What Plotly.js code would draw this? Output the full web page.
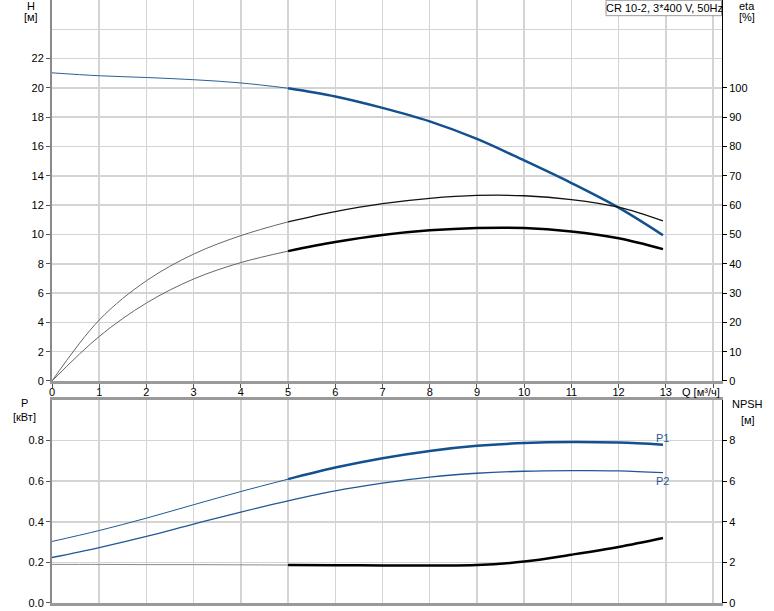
<!DOCTYPE html>
<html>
<head>
<meta charset="utf-8">
<script src="https://cdn.plot.ly/plotly-3.0.1.min.js"></script>
<style>html,body{margin:0;padding:0;background:#fff;}#chart{width:774px;height:611px;}</style>
</head>
<body>
<div id="chart"></div>
<script>
// Data
const Q      = [0, 1, 2, 3, 4, 5, 6, 7, 8, 9, 10, 11, 12, 12.94];
const H      = [21.03, 20.83, 20.71, 20.56, 20.34, 19.98, 19.42, 18.64, 17.72, 16.52, 15.05, 13.51, 11.83, 9.95];
const etaP   = [0, 20.8, 34.2, 43.3, 49.6, 54.3, 57.8, 60.5, 62.3, 63.3, 63.2, 61.9, 59.3, 54.6];
const etaT   = [0, 15.2, 26.6, 34.8, 40.4, 44.3, 47.4, 49.8, 51.4, 52.2, 52.2, 51.0, 48.7, 45.0];
const P1     = [0.303, 0.357, 0.418, 0.484, 0.549, 0.610, 0.667, 0.713, 0.749, 0.774, 0.788, 0.793, 0.790, 0.780];
const P2     = [0.224, 0.273, 0.328, 0.389, 0.448, 0.503, 0.552, 0.590, 0.620, 0.639, 0.649, 0.652, 0.651, 0.642];
const NPSH   = [1.90, 1.90, 1.89, 1.89, 1.88, 1.87, 1.86, 1.85, 1.85, 1.87, 2.04, 2.38, 2.76, 3.20];
const xTicks = [0,1,2,3,4,5,6,7,8,9,10,11,12,13,14];
const xTickText = ['0','1','2','3','4','5','6','7','8','9','10','11','12','13',''];
const hTicks = [0,2,4,6,8,10,12,14,16,18,20,22];
const etaTicks = [0,10,20,30,40,50,60,70,80,90,100];
const pTicks = [0,0.2,0.4,0.6,0.8];
const npshTicks = [0,2,4,6,8];
const titleText = 'CR 10-2, 3*400 V, 50Hz';

const SPLIT = 5; // index where the operating range (thick) begins
const head = a => a.slice(0, SPLIT + 1);
const tail = a => a.slice(SPLIT);

const blue = '#12508f';
function tr(x, y, xa, ya, color, width) {
  return {x: x, y: y, xaxis: xa, yaxis: ya, type: 'scatter', mode: 'lines',
          line: {color: color, width: width, shape: 'spline', smoothing: 1},
          hoverinfo: 'skip', showlegend: false};
}

const data = [
  tr(head(Q), head(etaP), 'x', 'y2', '#666', 1),
  tr(tail(Q), tail(etaP), 'x', 'y2', '#111', 1.3),
  tr(head(Q), head(etaT), 'x', 'y2', '#666', 1),
  tr(tail(Q), tail(etaT), 'x', 'y2', '#000', 2.5),
  tr(head(Q), head(H), 'x', 'y', '#2a5f98', 1),
  tr(tail(Q), tail(H), 'x', 'y', blue, 2.5),
  tr(head(Q), head(NPSH), 'x2', 'y4', '#888', 1),
  tr(tail(Q), tail(NPSH), 'x2', 'y4', '#000', 2.5),
  tr(Q, P2, 'x2', 'y3', '#1f5895', 1.3),
  tr(head(Q), head(P1), 'x2', 'y3', '#1f5895', 1),
  tr(tail(Q), tail(P1), 'x2', 'y3', blue, 2.5)
];

const font = {family: 'Liberation Sans, Arial, sans-serif', size: 11, color: '#000'};
const grid = '#d4d4d4';
const xr = [0, 14.19];

const layout = {
  width: 774, height: 611,
  margin: {l: 52, r: 52, t: 0, b: 8, pad: 0},
  paper_bgcolor: '#fff', plot_bgcolor: '#fff',
  font: font,
  showlegend: false,
  xaxis: {domain: [0, 1], range: xr, anchor: 'y', tickmode: 'array', tickvals: xTicks, ticktext: xTickText,
          showgrid: true, gridcolor: grid, gridwidth: 1.5, zeroline: false,
          showline: true, linecolor: '#9a9a9a', linewidth: 3,
          ticks: 'outside', ticklen: 4, tickcolor: '#555', tickfont: font, ticklabelstandoff: -5},
  yaxis: {domain: [0.3682, 1], range: [0, 26], anchor: 'x', tickmode: 'array', tickvals: hTicks,
          showgrid: true, gridcolor: grid, gridwidth: 1.5, zeroline: false,
          minor: {tickmode: 'array', tickvals: [24], showgrid: true, gridcolor: grid, gridwidth: 1.5, ticks: ''},
          showline: true, linecolor: '#8a8a8a', linewidth: 2,
          ticks: 'outside', ticklen: 4, tickcolor: '#555', tickfont: font},
  yaxis2: {overlaying: 'y', side: 'right', anchor: 'x', range: [0, 130], tickmode: 'array', tickvals: etaTicks,
           showgrid: false, zeroline: false, showline: true, linecolor: '#000', linewidth: 1,
           ticks: 'outside', ticklen: 4, tickcolor: '#000', tickfont: font},
  xaxis2: {domain: [0, 1], range: xr, anchor: 'y3', tickmode: 'array', tickvals: xTicks,
           showticklabels: false, ticks: '',
           showgrid: true, gridcolor: grid, gridwidth: 1.5, zeroline: false,
           showline: true, mirror: true, linecolor: '#9a9a9a', linewidth: 3},
  yaxis3: {domain: [0, 0.3367], range: [0, 1.0], anchor: 'x2', tickmode: 'array', tickvals: pTicks, tickformat: '.1f',
           showgrid: true, gridcolor: grid, gridwidth: 1.5, zeroline: false,
           showline: true, linecolor: '#8a8a8a', linewidth: 2,
           ticks: 'outside', ticklen: 4, tickcolor: '#555', tickfont: font},
  yaxis4: {overlaying: 'y3', side: 'right', anchor: 'x2', range: [0, 10], tickmode: 'array', tickvals: npshTicks,
           showgrid: false, zeroline: false, showline: true, linecolor: '#000', linewidth: 1,
           ticks: 'outside', ticklen: 4, tickcolor: '#000', tickfont: font},
  shapes: [
    {type: 'rect', xref: 'paper', yref: 'paper', x0: 0.8269, x1: 0.9993, y0: 0.974, y1: 0.9995,
     line: {color: '#999', width: 1}, fillcolor: '#fff', layer: 'above'}
  ],
  annotations: [
    {text: titleText, xref: 'paper', yref: 'paper', x: 0.9149, y: 0.9867, xanchor: 'center', yanchor: 'middle', showarrow: false, font: font},
    {text: 'H', xref: 'paper', yref: 'paper', x: -0.0313, y: 0.9895, xanchor: 'center', yanchor: 'middle', showarrow: false, font: font},
    {text: '[м]', xref: 'paper', yref: 'paper', x: -0.0313, y: 0.9710, xanchor: 'center', yanchor: 'middle', showarrow: false, font: font},
    {text: 'eta', xref: 'paper', yref: 'paper', x: 1.0373, y: 0.9895, xanchor: 'center', yanchor: 'middle', showarrow: false, font: font},
    {text: '[%]', xref: 'paper', yref: 'paper', x: 1.0373, y: 0.9710, xanchor: 'center', yanchor: 'middle', showarrow: false, font: font},
    {text: 'P', xref: 'paper', yref: 'paper', x: -0.0403, y: 0.3317, xanchor: 'center', yanchor: 'middle', showarrow: false, font: font},
    {text: '[кВт]', xref: 'paper', yref: 'paper', x: -0.0403, y: 0.3085, xanchor: 'center', yanchor: 'middle', showarrow: false, font: font},
    {text: 'NPSH', xref: 'paper', yref: 'paper', x: 1.0388, y: 0.3300, xanchor: 'center', yanchor: 'middle', showarrow: false, font: font},
    {text: '[м]', xref: 'paper', yref: 'paper', x: 1.0388, y: 0.3035, xanchor: 'center', yanchor: 'middle', showarrow: false, font: font},
    {text: 'Q [м³/ч]', xref: 'paper', yref: 'paper', x: 0.9687, y: 0.3499, xanchor: 'center', yanchor: 'middle', showarrow: false, font: font},
    {text: 'P1', xref: 'x2', yref: 'y3', x: Q[Q.length-1], y: P1[P1.length-1], yshift: 7, xanchor: 'center', yanchor: 'middle', showarrow: false,
     font: {family: font.family, size: 11, color: '#1f5895'}},
    {text: 'P2', xref: 'x2', yref: 'y3', x: Q[Q.length-1], y: P2[P2.length-1], yshift: -8, xanchor: 'center', yanchor: 'middle', showarrow: false,
     font: {family: font.family, size: 11, color: '#1f5895'}}
  ]
};

Plotly.newPlot('chart', data, layout, {staticPlot: true, displayModeBar: false});
</script>
</body>
</html>
